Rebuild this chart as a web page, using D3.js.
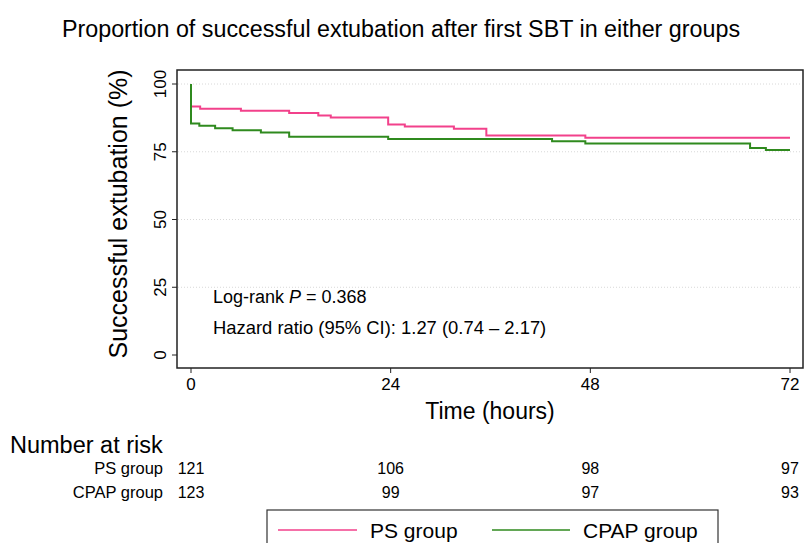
<!DOCTYPE html>
<html><head><meta charset="utf-8">
<script src="https://cdn.jsdelivr.net/npm/d3@7"></script>
<style>
body{margin:0;background:#fff;}
text{font-family:"Liberation Sans",Arial,Helvetica,sans-serif;fill:#000;}
</style></head>
<body><svg id="c" width="805" height="543"></svg>
<script>
const psTime   = [0, 0, 1.1, 6.0, 11.8, 15.3, 16.8, 23.7, 25.7, 31.6, 35.5, 47.4, 72];
const psSurv   = [100, 91.7, 90.9, 90.1, 89.3, 88.4, 87.6, 85.1, 84.3, 83.5, 81.0, 80.2, 80.2];
const cpapTime = [0, 0, 1.0, 2.9, 5.0, 8.4, 11.8, 23.7, 43.4, 47.4, 67.2, 69.1, 72];
const cpapSurv = [100, 85.4, 84.6, 83.7, 82.9, 82.1, 80.5, 79.7, 78.9, 78.0, 76.4, 75.6, 75.6];
const xTicks = [0, 24, 48, 72];
const yTicks = [0, 25, 50, 75, 100];
const riskGroups = ["PS group", "CPAP group"];
const riskPS   = [121, 106, 98, 97];
const riskCPAP = [123, 99, 97, 93];
const seriesNames = ["PS group", "CPAP group"];
const colors = ["#f2418b", "#2f8a1e"];

const svg = d3.select("#c");
const box = {l:177, r:803, t:70, b:368};
const x = d3.scaleLinear().domain([0,72]).range([191,790]);
const y = d3.scaleLinear().domain([0,100]).range([355,84]);

// title
svg.append("text").attr("x",401).attr("y",37).attr("text-anchor","middle")
  .style("font-size","23.3px").text("Proportion of successful extubation after first SBT in either groups");

// grid
svg.append("g").selectAll("line").data(yTicks.filter(d=>d>0)).join("line")
  .attr("x1",box.l+1).attr("x2",box.r-1).attr("y1",d=>y(d)).attr("y2",d=>y(d))
  .attr("stroke","#d8d8d8").attr("stroke-width",1).attr("stroke-dasharray","1,2");

// curves
const line = d3.line().x(d=>x(d[0])).y(d=>y(d[1])).curve(d3.curveStepAfter);
const psData = psTime.map((t,i)=>[t,psSurv[i]]);
const cpData = cpapTime.map((t,i)=>[t,cpapSurv[i]]);
svg.append("path").datum(psData).attr("d",line).attr("fill","none").attr("stroke",colors[0]).attr("stroke-width",2);
svg.append("path").datum(cpData).attr("d",line).attr("fill","none").attr("stroke",colors[1]).attr("stroke-width",2);

// frame
svg.append("rect").attr("x",box.l).attr("y",box.t).attr("width",box.r-box.l).attr("height",box.b-box.t)
  .attr("fill","none").attr("stroke","#222").attr("stroke-width",1.5);

// y axis
const ya = svg.append("g");
ya.selectAll("line").data(yTicks).join("line")
  .attr("x1",box.l-5).attr("x2",box.l).attr("y1",d=>y(d)).attr("y2",d=>y(d))
  .attr("stroke","#222").attr("stroke-width",1);
ya.selectAll("text").data(yTicks).join("text")
  .attr("transform",d=>`translate(166,${y(d)}) rotate(-90)`)
  .attr("text-anchor","middle").style("font-size","17px").text(d=>d);
svg.append("text").attr("transform","translate(127,214) rotate(-90)").attr("text-anchor","middle")
  .style("font-size","25px").text("Successful extubation (%)");

// x axis
const xa = svg.append("g");
xa.selectAll("line").data(xTicks).join("line")
  .attr("x1",d=>x(d)).attr("x2",d=>x(d)).attr("y1",box.b).attr("y2",box.b+5)
  .attr("stroke","#222").attr("stroke-width",1);
xa.selectAll("text").data(xTicks).join("text")
  .attr("x",d=>x(d)).attr("y",390).attr("text-anchor","middle").style("font-size","17px").text(d=>d);
svg.append("text").attr("x",490).attr("y",419).attr("text-anchor","middle")
  .style("font-size","23px").text("Time (hours)");

// annotations
const a1 = svg.append("text").attr("x",213).attr("y",303).style("font-size","18px");
a1.append("tspan").text("Log-rank ");
a1.append("tspan").style("font-style","italic").text("P");
a1.append("tspan").text(" = 0.368");
svg.append("text").attr("x",213).attr("y",334).style("font-size","18.4px")
  .text("Hazard ratio (95% CI): 1.27 (0.74 \u2013 2.17)");

// risk table
svg.append("text").attr("x",10).attr("y",453).style("font-size","23.5px").text("Number at risk");
const rows = [riskPS, riskCPAP];
rows.forEach((r,i)=>{
  const yy = 474 + i*24;
  svg.append("text").attr("x",163).attr("y",yy).attr("text-anchor","end")
    .style("font-size","16.5px").text(riskGroups[i]);
  svg.append("g").selectAll("text").data(r).join("text")
    .attr("x",(d,j)=>x(xTicks[j])).attr("y",yy).attr("text-anchor","middle")
    .style("font-size","16px").text(d=>d);
});

// legend
svg.append("rect").attr("x",267).attr("y",510).attr("width",451).attr("height",50)
  .attr("fill","none").attr("stroke","#333").attr("stroke-width",1.2);
const lx = [[278,357,370],[492,570,583]];
seriesNames.forEach((n,i)=>{
  svg.append("line").attr("x1",lx[i][0]).attr("x2",lx[i][1]).attr("y1",530).attr("y2",530)
    .attr("stroke",colors[i]).attr("stroke-width",1.5);
  svg.append("text").attr("x",lx[i][2]).attr("y",538).style("font-size","21px").text(n);
});
</script></body></html>
